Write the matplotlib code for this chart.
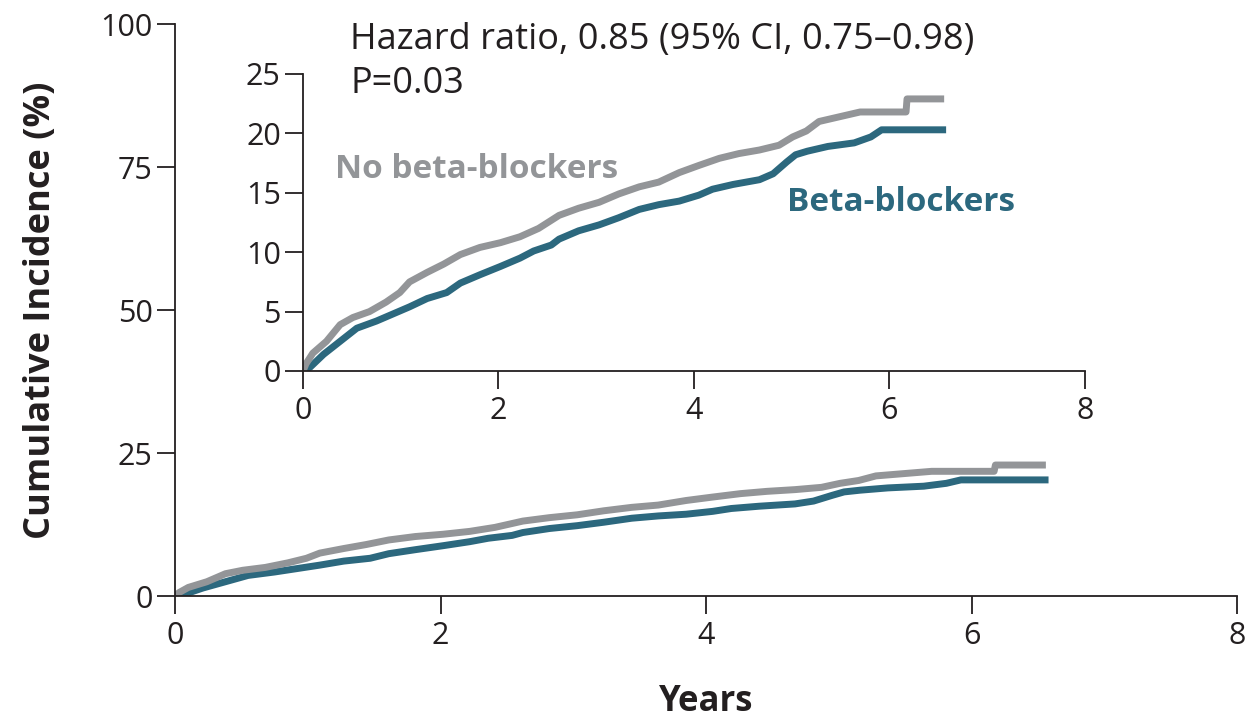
import matplotlib
matplotlib.use("Agg")
import matplotlib.pyplot as plt

# cumulative incidence (%)
years_no = [0, 0.03, 0.10, 0.24, 0.38, 0.51, 0.68, 0.85, 0.99, 1.09, 1.27, 1.44, 1.61, 1.81,
            2.02, 2.22, 2.41, 2.62, 2.82, 3.03, 3.23, 3.44, 3.64, 3.85, 4.05, 4.26, 4.46,
            4.67, 4.87, 5.01, 5.15, 5.28, 5.49, 5.70, 6.17, 6.18, 6.56]
inc_no = [0, 0.6, 1.5, 2.5, 3.9, 4.5, 5.0, 5.8, 6.6, 7.5, 8.3, 9.0, 9.8, 10.4,
          10.8, 11.3, 12.0, 13.1, 13.7, 14.2, 14.9, 15.5, 15.9, 16.7, 17.3, 17.9, 18.3,
          18.6, 19.0, 19.7, 20.2, 21.0, 21.4, 21.8, 21.8, 22.9, 22.9]

years_bb = [0, 0.07, 0.21, 0.38, 0.55, 0.75, 0.92, 1.09, 1.27, 1.47, 1.61, 1.81, 2.02, 2.22,
            2.36, 2.54, 2.62, 2.82, 3.03, 3.23, 3.44, 3.64, 3.85, 4.05, 4.19, 4.40, 4.67,
            4.81, 4.95, 5.04, 5.16, 5.37, 5.64, 5.81, 5.92, 6.58]
inc_bb = [0, 0.3, 1.4, 2.5, 3.6, 4.2, 4.8, 5.4, 6.1, 6.6, 7.4, 8.1, 8.8, 9.5,
          10.1, 10.6, 11.1, 11.8, 12.3, 12.9, 13.6, 14.0, 14.3, 14.8, 15.3, 15.7, 16.1,
          16.6, 17.6, 18.2, 18.5, 18.9, 19.2, 19.7, 20.3, 20.3]

main_yticks = [0, 25, 50, 75, 100]
inset_yticks = [0, 5, 10, 15, 20, 25]
xticks = [0, 2, 4, 6, 8]

gray = "#939598"
teal = "#2c687e"
ink = "#231f20"

plt.rcParams['font.family'] = ['Open Sans', 'DejaVu Sans']

fig = plt.figure(figsize=(12.45, 7.28), dpi=100)


def style(ax, ymax, yt):
    ax.set_xlim(0, 8)
    ax.set_ylim(0, ymax)
    ax.set_xticks(xticks)
    ax.set_yticks(yt)
    for s in ["top", "right"]:
        ax.spines[s].set_visible(False)
    for s in ["left", "bottom"]:
        ax.spines[s].set_color(ink)
        ax.spines[s].set_linewidth(1.3)
    ax.tick_params(direction="out", length=13, width=1.3, color=ink,
                   labelsize=22, labelcolor=ink, pad=3)
    ax.tick_params(axis="x", pad=5)
    ax.patch.set_alpha(0)


ax = fig.add_axes([0.1406, 0.1813, 0.853, 0.7857])
style(ax, 100, main_yticks)
ax.plot(years_bb, inc_bb, color=teal, lw=5, solid_capstyle="butt")
ax.plot(years_no, inc_no, color=gray, lw=5, solid_capstyle="butt")
ax.set_ylabel("Cumulative Incidence (%)", fontsize=26, fontweight="bold", color=ink, labelpad=30)
ax.set_xlabel("Years", fontsize=25, fontweight="bold", color=ink, labelpad=24)

ins = fig.add_axes([0.2434, 0.4904, 0.628, 0.408])
style(ins, 25, inset_yticks)
ins.plot(years_bb, inc_bb, color=teal, lw=5, solid_capstyle="butt")
ins.plot(years_no, inc_no, color=gray, lw=5, solid_capstyle="butt")
ins.text(0.33, 17.0, "No beta-blockers", color=gray, fontsize=24, fontweight="bold",
         va="center", ha="left")
ins.text(4.95, 14.2, "Beta-blockers", color=teal, fontsize=24, fontweight="bold",
         va="center", ha="left")

fig.text(350 / 1245, 1 - 40 / 728, "Hazard ratio, 0.85 (95% CI, 0.75\u20130.98)",
         fontsize=26, color=ink, va="center", ha="left")
fig.text(350 / 1245, 1 - 84 / 728, "P=0.03", fontsize=26, color=ink, va="center", ha="left")

fig.savefig("out.png", dpi=100)
